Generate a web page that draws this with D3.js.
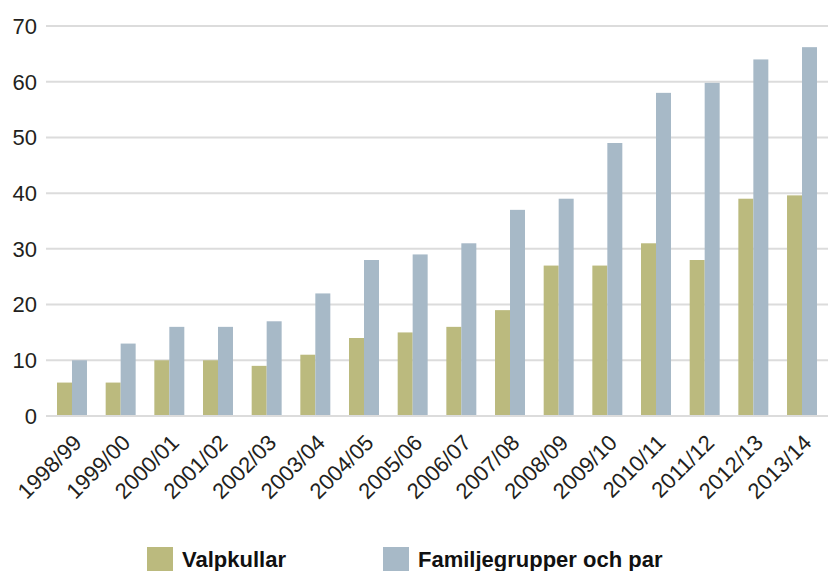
<!DOCTYPE html>
<html>
<head>
<meta charset="utf-8">
<script src="https://cdn.jsdelivr.net/npm/d3@7"></script>
<style>
  html, body { margin: 0; padding: 0; background: #fff; }
  svg { display: block; font-family: "Liberation Sans", Arial, sans-serif; }
</style>
</head>
<body>
<div id="chart"></div>
<script>
// Säsonger, valpkullar och familjegrupper/par
var seasons = ['1998/99', '1999/00', '2000/01', '2001/02', '2002/03', '2003/04', '2004/05', '2005/06',
               '2006/07', '2007/08', '2008/09', '2009/10', '2010/11', '2011/12', '2012/13', '2013/14'];
var valpkullar = [6, 6, 10, 10, 9, 11, 14, 15, 16, 19, 27, 27, 31, 28, 39, 39.6];
var familjegrupper = [10, 13, 16, 16, 17, 22, 28, 29, 31, 37, 39, 49, 58, 59.8, 64, 66.2];
var yTicks = [0, 10, 20, 30, 40, 50, 60, 70];
var seriesNames = ['Valpkullar', 'Familjegrupper och par'];
var seriesColors = ['#bbba7e', '#a7b9c7'];

(function() {
  'use strict';

  var width = 828, height = 571;

  var svg = d3.select('#chart')
    .append('svg')
    .attr('width', width)
    .attr('height', height);

  var x0 = d3.scaleBand()
    .domain(seasons)
    .range([46, 828])
    .paddingInner(0.384)
    .paddingOuter(0.226);

  var x1 = d3.scaleBand()
    .domain([0, 1])
    .range([0, x0.bandwidth()]);

  var y = d3.scaleLinear()
    .domain([0, 70])
    .range([416, 26]);

  // grid lines
  svg.append('g')
    .selectAll('line')
    .data(yTicks)
    .enter().append('line')
    .attr('x1', 46)
    .attr('x2', width)
    .attr('y1', function(d) { return y(d); })
    .attr('y2', function(d) { return y(d); })
    .attr('stroke', '#dcdcdc')
    .attr('stroke-width', 2);

  // y labels
  svg.append('g')
    .selectAll('text')
    .data(yTicks)
    .enter().append('text')
    .attr('x', 37)
    .attr('y', function(d) { return y(d); })
    .attr('dy', '0.36em')
    .attr('text-anchor', 'end')
    .attr('font-size', '22px')
    .attr('fill', '#231f20')
    .text(function(d) { return d; });

  // bars
  var rows = seasons.map(function(s, i) {
    return { season: s, values: [valpkullar[i], familjegrupper[i]] };
  });

  var group = svg.append('g')
    .selectAll('g')
    .data(rows)
    .enter().append('g')
    .attr('transform', function(d) { return 'translate(' + x0(d.season) + ',0)'; });

  group.selectAll('rect')
    .data(function(d) { return d.values; })
    .enter().append('rect')
    .attr('x', function(d, i) { return x1(i); })
    .attr('width', x1.bandwidth())
    .attr('y', function(d) { return y(d); })
    .attr('height', function(d) { return y(0) - 1 - y(d); })
    .attr('fill', function(d, i) { return seriesColors[i]; });

  // x labels
  svg.append('g')
    .selectAll('text')
    .data(seasons)
    .enter().append('text')
    .attr('transform', function(d) {
      return 'translate(' + (x0(d) + x0.bandwidth() / 2 + 11) + ',444) rotate(-45)';
    })
    .attr('text-anchor', 'end')
    .attr('font-size', '22px')
    .attr('fill', '#231f20')
    .text(function(d) { return d; });

  // legend
  var legendX = [147, 383];
  var legend = svg.append('g')
    .selectAll('g')
    .data(seriesNames)
    .enter().append('g')
    .attr('transform', function(d, i) { return 'translate(' + legendX[i] + ',547)'; });

  legend.append('rect')
    .attr('width', 26)
    .attr('height', 26)
    .attr('fill', function(d, i) { return seriesColors[i]; });

  legend.append('text')
    .attr('x', 35)
    .attr('y', 20)
    .attr('font-size', '22px')
    .attr('font-weight', 'bold')
    .attr('fill', '#111')
    .text(function(d) { return d; });
})();
</script>
</body>
</html>
